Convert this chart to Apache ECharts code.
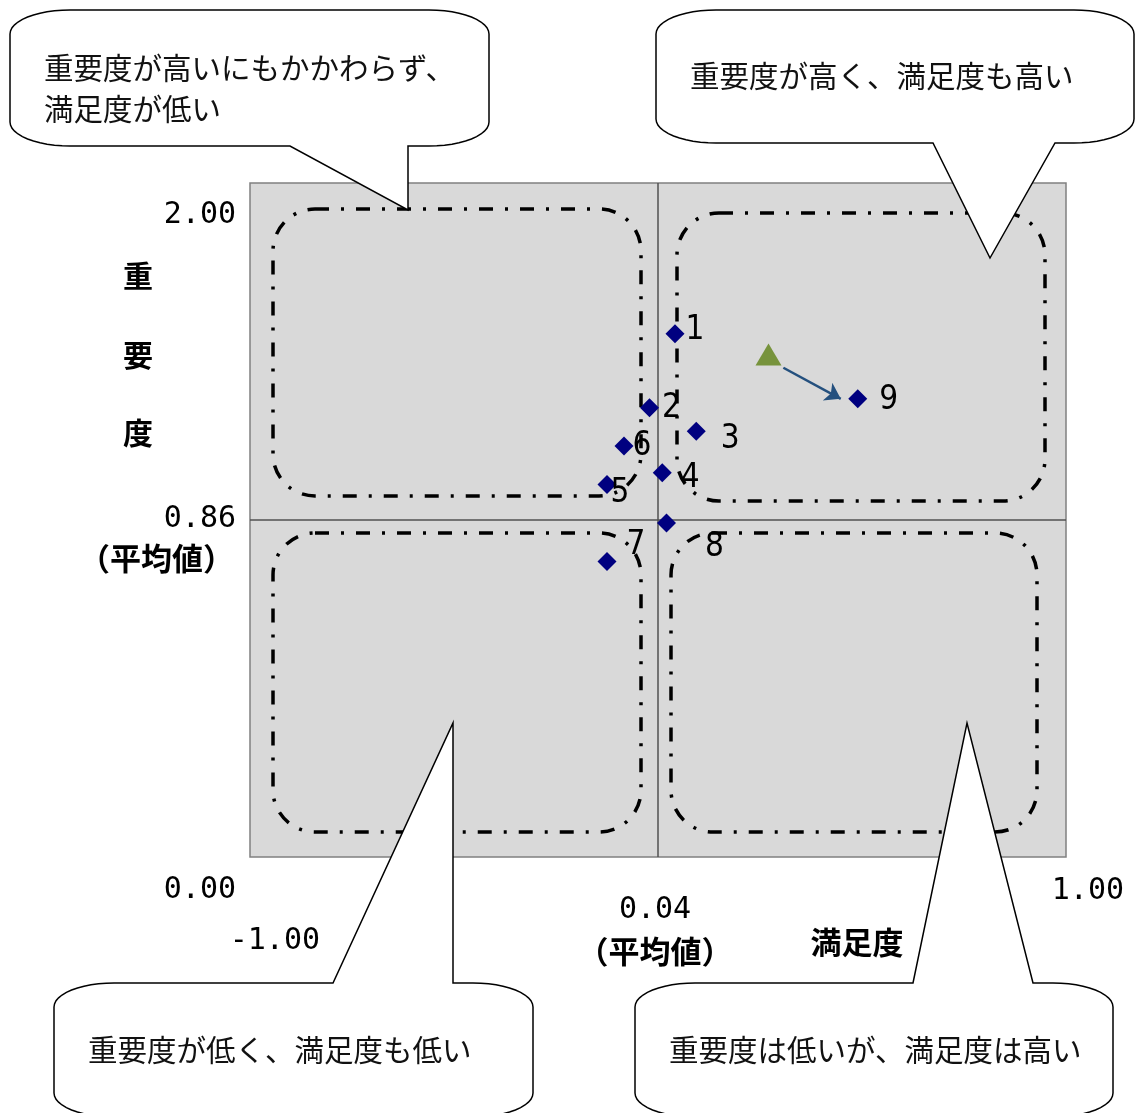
<!DOCTYPE html>
<html><head><meta charset="utf-8">
<script src="https://cdn.jsdelivr.net/npm/echarts@6/dist/echarts.min.js"></script>
<style>html,body{margin:0;padding:0;background:#fff}#c{width:1135px;height:1113px}</style>
</head><body><div id="c"></div>
<script>
// ---- data ----
const itemNames    = ['1','2','3','4','5','6','7','8','9'];
const satisfaction = [0.08, 0.02, 0.13, 0.05, -0.08, -0.04, -0.08, 0.06, 0.51];
const importance   = [1.49, 1.24, 1.16, 1.02, 0.98, 1.11, 0.72, 0.85, 1.27];
const previousPoint = [0.30, 1.42];          // green triangle
const arrowFrom = [0.335, 1.375];
const arrowTo   = [0.47, 1.27];
const meanSatisfaction = 0.04;
const meanImportance   = 0.86;
const xRange = [-0.92, 1.00];
const yRange = [-0.28, 2.00];
const yTickTexts = ['2.00', '0.86', '0.00'];
const xTickTexts = ['-1.00', '0.04', '1.00'];
const calloutTexts = [
  '重要度が高いにもかかわらず、\n満足度が低い',
  '重要度が高く、満足度も高い',
  '重要度が低く、満足度も低い',
  '重要度は低いが、満足度は高い'
];

// ---- styles / layout ----
const labelOffsets = [[20,-3],[22,1],[34,8],[28,6],[13,9],[18,0],[29,-16],[48,24],[31,2]];
const numFont = "'DejaVu Sans Mono', monospace";
const cjk = "'Noto Sans CJK JP', sans-serif";

function arcPts(cx, cy, rx, ry, a0, a1) {
  const pts = [], n = 12;
  for (let i = 0; i <= n; i++) {
    const a = a0 + (a1 - a0) * i / n;
    pts.push([cx + rx * Math.cos(a), cy + ry * Math.sin(a)]);
  }
  return pts;
}
function calloutPoints(x0, y0, x1, y1, pa, pb, tip, onTop) {
  const rx = 60, ry = 24, P = Math.PI;
  let pts = [];
  pts = pts.concat(arcPts(x0+rx, y0+ry, rx, ry, P, 1.5*P));
  if (onTop) pts.push([pa, y0], tip, [pb, y0]);
  pts = pts.concat(arcPts(x1-rx, y0+ry, rx, ry, 1.5*P, 2*P));
  pts = pts.concat(arcPts(x1-rx, y1-ry, rx, ry, 0, 0.5*P));
  if (!onTop) pts.push([pb, y1], tip, [pa, y1]);
  pts = pts.concat(arcPts(x0+rx, y1-ry, rx, ry, 0.5*P, P));
  return pts;
}
function calloutEl(pts) {
  return { type:'polygon', z:100, shape:{ points:pts },
    style:{ fill:'#fff', stroke:'#000', lineWidth:1.5 } };
}
function txt(text, x, y, size, opts) {
  return { type:'text', z:110, style: Object.assign({
    text, x, y, fontSize:size, fontFamily:cjk, fill:'#000',
    align:'left', verticalAlign:'middle' }, opts || {}) };
}
function dashRect(x, y, w, h) {
  return { type:'rect', z:1, shape:{ x, y, width:w, height:h, r:42 },
    style:{ fill:'none', stroke:'#000', lineWidth:3.5, lineDash:[14,12,3,12] } };
}

const scatterData = itemNames.map((n, i) => ({
  name: n, value: [satisfaction[i], importance[i]],
  label: { offset: labelOffsets[i] }
}));

const graphics = [
  dashRect(273, 209, 368, 287),
  dashRect(677, 213, 368, 288),
  dashRect(273, 533, 368, 299),
  dashRect(671, 533, 366, 299),
  calloutEl(calloutPoints(10, 10, 489, 146, 290, 408, [408, 210], false)),
  calloutEl(calloutPoints(656, 10, 1134, 143, 933, 1055, [990, 258], false)),
  calloutEl(calloutPoints(54, 983, 533, 1117, 333, 453, [453, 723], true)),
  calloutEl(calloutPoints(635, 983, 1113, 1117, 913, 1033, [967, 723], true)),
  txt(calloutTexts[0], 44, 88, 29.5, { lineHeight: 41, fill:'#111' }),
  txt(calloutTexts[1], 690, 76, 29.5, { fill:'#111' }),
  txt(calloutTexts[2], 88, 1050, 29.5, { fill:'#111' }),
  txt(calloutTexts[3], 669, 1050, 29.5, { fill:'#111' }),
  // y axis labels
  txt(yTickTexts[0], 236, 215, 30, { align:'right', fontFamily:numFont }),
  txt(yTickTexts[1], 236, 519, 30, { align:'right', fontFamily:numFont }),
  txt('（平均値）', 234, 558, 31, { align:'right', fontWeight:'bold' }),
  txt(yTickTexts[2], 236, 890, 30, { align:'right', fontFamily:numFont }),
  txt('重', 138, 276, 30, { align:'center', fontWeight:'bold' }),
  txt('要', 138, 355, 30, { align:'center', fontWeight:'bold' }),
  txt('度', 138, 433, 30, { align:'center', fontWeight:'bold' }),
  // x axis labels
  txt(xTickTexts[0], 320, 941, 30, { align:'right', fontFamily:numFont }),
  txt(xTickTexts[1], 655, 910, 30, { align:'center', fontFamily:numFont }),
  txt('（平均値）', 655, 951, 31, { align:'center', fontWeight:'bold' }),
  txt(xTickTexts[2], 1124, 891, 30, { align:'right', fontFamily:numFont }),
  txt('満足度', 857, 942, 31, { align:'center', fontWeight:'bold' })
];

const chart = echarts.init(document.getElementById('c'), null, { renderer:'canvas' });
chart.setOption({
  animation: false,
  backgroundColor: '#fff',
  grid: { left: 250, top: 183, width: 816, height: 674, show: true,
          backgroundColor: '#d9d9d9', borderColor: '#808080', borderWidth: 1.5 },
  xAxis: { type:'value', min:xRange[0], max:xRange[1],
           axisLine:{show:false}, axisTick:{show:false}, axisLabel:{show:false}, splitLine:{show:false} },
  yAxis: { type:'value', min:yRange[0], max:yRange[1],
           axisLine:{show:false}, axisTick:{show:false}, axisLabel:{show:false}, splitLine:{show:false} },
  series: [
    {
      type:'scatter', symbol:'diamond', symbolSize:19, z:5,
      itemStyle:{ color:'#000080', opacity:1 },
      label:{ show:true, position:'inside', formatter:'{b}', fontSize:33,
              fontFamily:"'Liberation Sans Narrow','DejaVu Sans Condensed',sans-serif", color:'#000' },
      data: scatterData,
      markLine: { silent:true, symbol:'none', label:{show:false}, z:3,
        lineStyle:{ color:'#505050', width:1.5, type:'solid' },
        data:[ { xAxis: meanSatisfaction }, { yAxis: meanImportance } ] }
    },
    {
      type:'scatter', symbol:'triangle', symbolSize:[26,22], z:5,
      itemStyle:{ color:'#77933c', opacity:1 },
      data:[ previousPoint ]
    },
    {
      type:'lines', coordinateSystem:'cartesian2d', z:5,
      symbol:['none','arrow'], symbolSize:15,
      lineStyle:{ color:'#24507e', width:2.5, opacity:1 },
      data:[ { coords:[ arrowFrom, arrowTo ] } ]
    }
  ],
  graphic: graphics
});
</script>
</body></html>
